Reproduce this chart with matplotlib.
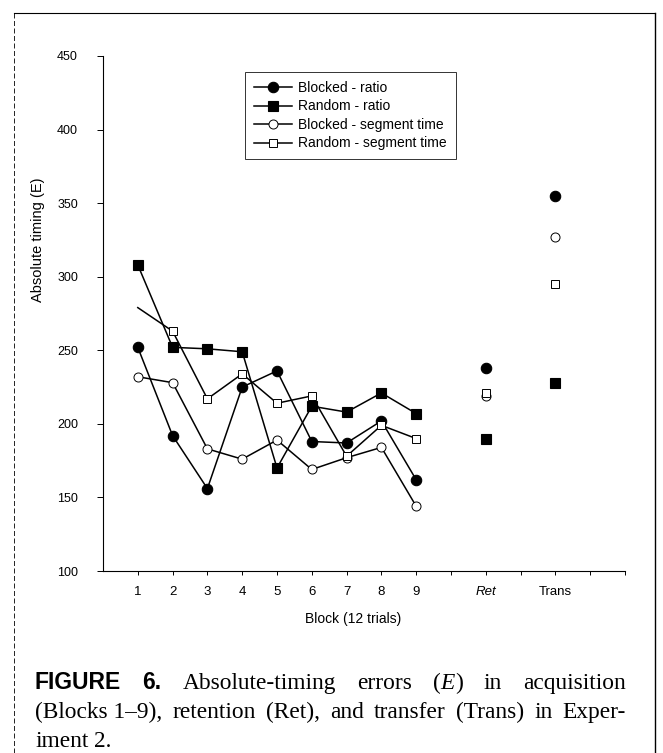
import matplotlib
matplotlib.use("Agg")
import matplotlib.pyplot as plt
from matplotlib.font_manager import FontProperties
from matplotlib.lines import Line2D

# block positions and labels
block_pos = [1, 2, 3, 4, 5, 6, 7, 8, 9]
ret_pos = 11
trans_pos = 13
tick_labels = ['1', '2', '3', '4', '5', '6', '7', '8', '9', '', 'Ret', '', 'Trans', '', '']

# absolute timing error (E)
blocked_ratio = [252, 192, 156, 225, 236, 188, 187, 202, 162]
random_ratio = [308, 252, 251, 249, 170, 212, 208, 221, 207]
blocked_seg = [232, 228, 183, 176, 189, 169, 177, 184, 144]
random_seg = [279, 263, 217, 234, 214, 219, 178, 199, 190]

ret_vals = {'br': 238, 'rr': 190, 'bs': 219, 'rs': 221}
trans_vals = {'br': 355, 'rr': 228, 'bs': 327, 'rs': 295}

plt.rcParams['font.family'] = ['Liberation Sans', 'DejaVu Sans']

W, H = 663, 753
fig = plt.figure(figsize=(W / 100, H / 100), dpi=100)
ax = fig.add_axes([103 / W, 1 - 571 / H, (625 - 103) / W, (571 - 56) / H])

styles = {
    'br': dict(marker='o', ms=7.5, mfc='black', mec='black', mew=0.8),
    'rr': dict(marker='s', ms=6.5, mfc='black', mec='black', mew=0.8),
    'bs': dict(marker='o', ms=6.5, mfc='white', mec='black', mew=0.7),
    'rs': dict(marker='s', ms=6.0, mfc='white', mec='black', mew=0.7),
}
series = [('br', blocked_ratio, 'Blocked - ratio'),
          ('rr', random_ratio, 'Random - ratio'),
          ('bs', blocked_seg, 'Blocked - segment time'),
          ('rs', random_seg, 'Random - segment time')]

handles = []
for key, vals, label in series:
    # first open square is not visible in the scan
    me = range(1, 9) if key == 'rs' else None
    ax.plot(block_pos, vals, color='black', lw=1.1, markevery=me, **styles[key])
    ax.plot([ret_pos, trans_pos], [ret_vals[key], trans_vals[key]],
            ls='none', **styles[key])
    handles.append(Line2D([], [], color='black', lw=1.1, label=label, **styles[key]))

ax.set_xlim(0, 15)
ax.set_ylim(100, 450)
ax.set_yticks([100, 150, 200, 250, 300, 350, 400, 450])
ax.set_xticks(range(1, 16))
ax.set_xticklabels(tick_labels)
for lab in ax.get_xticklabels():
    if lab.get_text() == 'Ret':
        lab.set_style('italic')
ax.tick_params(axis='y', direction='out', length=4, width=0.7, pad=14, labelsize=9)
ax.tick_params(axis='x', direction='out', length=3, width=0.7, pad=8, labelsize=9.5)
for s in ['top', 'right']:
    ax.spines[s].set_visible(False)
for s in ['left', 'bottom']:
    ax.spines[s].set_linewidth(0.8)

leg = fig.legend(handles=handles, loc='upper left',
                 bbox_to_anchor=(245 / W, 1 - 72 / H), fontsize=10,
                 frameon=True, fancybox=False, edgecolor='black',
                 handlelength=2.7, handletextpad=0.5, labelspacing=0.32,
                 borderpad=0.65, borderaxespad=0)
leg.get_frame().set_linewidth(0.7)

fig.text(38 / W, 1 - 240 / H, 'Absolute timing (E)', rotation=90,
         ha='center', va='center', fontsize=10.5)
fig.text(353 / W, 1 - 619 / H, 'Block (12 trials)', ha='center', va='center',
         fontsize=10)

# outer frame (top, left, right)
fig.add_artist(Line2D([14 / W, 655 / W], [1 - 13 / H, 1 - 13 / H], color='black', lw=0.8))
fig.add_artist(Line2D([14 / W, 14 / W], [1 - 13 / H, 0], color='black', lw=0.6, ls=(0, (6, 3))))
fig.add_artist(Line2D([655 / W, 655 / W], [1 - 13 / H, 0], color='black', lw=1.0))

# caption, justified
bold = FontProperties(family='Liberation Sans', weight='bold', size=16.5)
serif = FontProperties(family='Liberation Serif', size=16.8)
serif_it = FontProperties(family='Liberation Serif', style='italic', size=16.8)

renderer = fig.canvas.get_renderer()


def seg_width(s, fp):
    t = fig.text(0, 0, s, fontproperties=fp)
    w = t.get_window_extent(renderer).width
    t.remove()
    return w


def draw_line(words, y, x0, x1, justify=True):
    widths = [sum(seg_width(s, fp) for s, fp in w) for w in words]
    space = seg_width('a a', serif) - seg_width('aa', serif)
    if justify and len(words) > 1:
        space = (x1 - x0 - sum(widths)) / (len(words) - 1)
    x = x0
    for w, ww in zip(words, widths):
        xx = x
        for s, fp in w:
            fig.text(xx / W, 1 - y / H, s, fontproperties=fp, va='baseline')
            xx += seg_width(s, fp)
        x += ww + space


line1 = [[('FIGURE', bold)], [('6.', bold)], [('Absolute-timing', serif)],
         [('errors', serif)], [('(', serif), ('E', serif_it), (')', serif)],
         [('in', serif)], [('acquisition', serif)]]
line2 = [[('(Blocks 1\u20139),', serif)], [('retention', serif)], [('(Ret),', serif)],
         [('and', serif)], [('transfer', serif)], [('(Trans)', serif)],
         [('in', serif)], [('Exper-', serif)]]
line3 = [[('iment', serif)], [('2.', serif)]]

draw_line(line1, 689, 35, 626)
draw_line(line2, 718, 35, 626)
draw_line(line3, 747, 35, 626, justify=False)

fig.savefig('out.png', dpi=100)
